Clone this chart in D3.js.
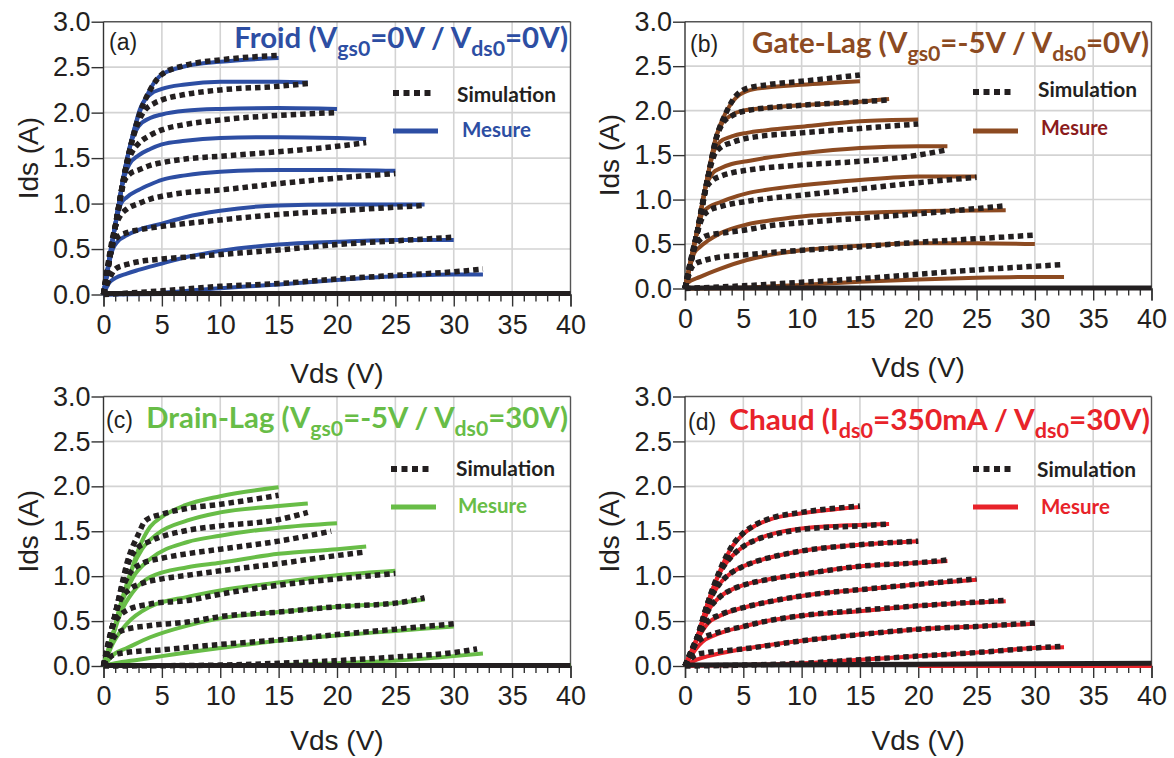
<!DOCTYPE html>
<html>
<head>
<meta charset="utf-8">
<script src="https://cdn.jsdelivr.net/npm/d3@7"></script>
<style>
  html, body { margin: 0; padding: 0; background: #ffffff; }
  svg { display: block; }
</style>
</head>
<body>
<svg id="chart" width="1174" height="758"></svg>
<script>
// ---------------- DATA ----------------
const vdsTicks = [0, 5, 10, 15, 20, 25, 30, 35, 40];
const idsTicks = [0, 0.5, 1.0, 1.5, 2.0, 2.5, 3.0];
const vdsMinorTicks = d3.range(0, 41, 1);

// (a) Froid — each curve: [Vds, Ids]
const froidMesure = [
  [[0,0],[1,0.76],[2,1.48],[3,1.97],[4,2.26],[5,2.42],[7,2.51],[10,2.56],[15,2.60]],
  [[0,0],[1,0.76],[2,1.48],[2.6,1.8],[3.1,2.03],[4,2.2],[5,2.26],[7,2.31],[10,2.34],[15,2.34],[17.5,2.33]],
  [[0,0],[1,0.76],[2,1.48],[2.5,1.72],[3,1.85],[4,1.94],[5,1.98],[7,2.02],[10,2.04],[15,2.05],[20,2.04]],
  [[0,0],[1,0.76],[1.8,1.3],[2.2,1.43],[3,1.53],[4,1.6],[5,1.65],[7,1.69],[10,1.72],[15,1.73],[20,1.72],[22.5,1.71]],
  [[0,0],[1,0.76],[1.5,1.0],[2,1.07],[3,1.15],[4,1.21],[5,1.26],[7,1.31],[10,1.35],[15,1.37],[20,1.37],[25,1.36]],
  [[0,0],[0.8,0.5],[1.2,0.58],[2,0.65],[3,0.71],[5,0.78],[7,0.85],[10,0.92],[15,0.98],[20,0.99],[27.5,0.99]],
  [[0,0],[0.5,0.13],[1,0.18],[2,0.23],[3,0.27],[5,0.34],[7,0.41],[10,0.48],[15,0.55],[20,0.58],[25,0.6],[30,0.6]],
  [[0,0],[2,0.005],[5,0.02],[10,0.07],[15,0.11],[20,0.16],[25,0.2],[30,0.22],[32.5,0.22]],
  [[0,0],[10,0.008],[20,0.01],[35,0.01]]
];
const froidSimulation = [
  [[0,0],[1,0.74],[2,1.45],[3,1.95],[4,2.25],[5,2.42],[7,2.52],[10,2.58],[15,2.63]],
  [[0,0],[1,0.74],[2,1.45],[3,1.9],[3.5,2.02],[4.3,2.1],[5,2.14],[7,2.2],[10,2.25],[15,2.29],[17.5,2.32]],
  [[0,0],[1,0.74],[2,1.43],[2.5,1.58],[3,1.66],[4,1.75],[5,1.81],[7,1.87],[10,1.92],[15,1.97],[20,2.0]],
  [[0,0],[1,0.74],[1.8,1.25],[2.3,1.33],[3,1.37],[4,1.42],[5,1.45],[7,1.49],[10,1.52],[15,1.57],[20,1.63],[22.5,1.67]],
  [[0,0],[1,0.74],[1.5,0.88],[2,0.94],[3,1.0],[4,1.05],[5,1.08],[7,1.12],[10,1.15],[15,1.22],[20,1.28],[25,1.33]],
  [[0,0],[0.8,0.55],[1.2,0.63],[2,0.68],[3,0.71],[5,0.75],[7,0.78],[10,0.82],[15,0.88],[20,0.92],[27.5,0.98]],
  [[0,0],[0.6,0.2],[1,0.28],[2,0.33],[3,0.36],[5,0.39],[7,0.41],[10,0.44],[15,0.49],[20,0.55],[25,0.59],[30,0.63]],
  [[0,0],[5,0.04],[10,0.09],[15,0.12],[20,0.17],[25,0.21],[30,0.25],[32.5,0.28]]
];
const froidPinch = [[0,0.01],[40,0.01]];

// (b) Gate-Lag
const gateLagMesure = [
  [[0,0],[1,0.62],[2,1.3],[2.7,1.72],[3.5,1.98],[4.2,2.12],[5.3,2.22],[7,2.26],[10,2.29],[15,2.33]],
  [[0,0],[1,0.62],[2,1.3],[2.7,1.72],[3.2,1.86],[4,1.95],[5,2.0],[7,2.03],[10,2.06],[15,2.1],[17.5,2.13]],
  [[0,0],[1,0.62],[2,1.3],[2.5,1.55],[3,1.65],[4,1.71],[5.3,1.75],[7,1.78],[10,1.82],[15,1.88],[20,1.90]],
  [[0,0],[1,0.62],[1.8,1.15],[2.4,1.3],[3,1.35],[4,1.4],[5.3,1.43],[7,1.47],[10,1.52],[15,1.58],[20,1.6],[22.5,1.6]],
  [[0,0],[1,0.62],[1.5,0.85],[2.1,0.92],[3,0.97],[4,1.02],[5.3,1.07],[7,1.11],[10,1.16],[15,1.22],[20,1.26],[25,1.26]],
  [[0,0],[0.8,0.4],[1.3,0.47],[2,0.54],[3,0.62],[5.3,0.72],[7,0.76],[10,0.81],[15,0.85],[20,0.87],[27.5,0.88]],
  [[0,0],[0.2,0.06],[1.3,0.13],[3,0.22],[5.3,0.32],[7,0.37],[10,0.43],[15,0.48],[20,0.51],[25,0.51],[30,0.5]],
  [[0,0],[5,0.01],[10,0.04],[15,0.075],[20,0.10],[25,0.12],[30,0.13],[32.5,0.13]],
  [[0,0],[10,0.005],[33,0.005]]
];
const gateLagSimulation = [
  [[0,0],[1,0.6],[2,1.27],[2.7,1.7],[3.5,1.97],[4.1,2.12],[5.3,2.25],[7,2.29],[10,2.33],[15,2.40]],
  [[0,0],[1,0.6],[2,1.27],[2.7,1.7],[3.2,1.85],[4,1.94],[5.3,2.0],[10,2.06],[15,2.1],[17.5,2.12]],
  [[0,0],[1,0.6],[2,1.27],[2.5,1.5],[3,1.58],[4,1.64],[5.3,1.69],[10,1.75],[15,1.8],[20,1.85]],
  [[0,0],[1,0.6],[1.8,1.12],[2.4,1.22],[3,1.26],[4,1.3],[5.3,1.33],[10,1.39],[15,1.43],[20,1.5],[22.5,1.56]],
  [[0,0],[1,0.6],[1.5,0.8],[2.1,0.88],[3,0.92],[5.3,0.98],[7,1.01],[10,1.05],[15,1.12],[20,1.19],[25,1.25]],
  [[0,0],[0.8,0.45],[1.3,0.55],[2,0.6],[3,0.62],[5.3,0.66],[7,0.7],[10,0.74],[15,0.79],[20,0.84],[27.5,0.93]],
  [[0,0],[0.7,0.26],[1.5,0.31],[2.4,0.34],[5.3,0.38],[10,0.43],[15,0.47],[20,0.52],[25,0.56],[30,0.6]],
  [[0,0],[5,0.03],[10,0.07],[15,0.11],[20,0.16],[25,0.21],[30,0.25],[32.5,0.27]]
];
const gateLagPinch = [[0,0.005],[40,0.005]];

// (c) Drain-Lag
const drainLagMesure = [
  [[0,0],[0.8,0.35],[1.5,0.7],[2,0.9],[3,1.3],[4,1.55],[5,1.66],[7,1.79],[10,1.89],[15,1.99]],
  [[0,0],[0.8,0.35],[1.5,0.7],[2.5,1.1],[3.3,1.3],[4.6,1.47],[7.2,1.62],[10,1.71],[15,1.78],[17.5,1.81]],
  [[0,0],[0.8,0.35],[1.5,0.68],[2.5,0.98],[4,1.19],[7.2,1.38],[10,1.45],[15,1.54],[20,1.59]],
  [[0,0],[0.8,0.33],[1.5,0.6],[2.5,0.82],[4,0.99],[7.2,1.1],[10,1.15],[15,1.25],[20,1.3],[22.5,1.33]],
  [[0,0],[0.8,0.25],[2,0.47],[4,0.66],[7.2,0.77],[10,0.84],[15,0.93],[20,1.01],[25,1.06]],
  [[0,0],[1,0.14],[2,0.2],[4,0.32],[7.2,0.45],[10,0.53],[15,0.6],[20,0.66],[25,0.70],[27.5,0.74]],
  [[0,0],[1,0.03],[3,0.07],[5,0.11],[10,0.2],[15,0.28],[20,0.34],[25,0.39],[30,0.44]],
  [[0,0],[10,0.0],[15,0.01],[20,0.03],[25,0.06],[30,0.11],[32.5,0.14]],
  [[0,0],[20,0.01],[40,0.01]]
];
const drainLagSimulation = [
  [[0,0],[0.7,0.4],[1.4,0.8],[2,1.14],[3,1.47],[3.6,1.62],[5,1.69],[7,1.75],[10,1.8],[15,1.9]],
  [[0,0],[0.7,0.4],[1.4,0.8],[2,1.1],[2.8,1.3],[4,1.39],[7.2,1.51],[10,1.56],[15,1.63],[17.5,1.71]],
  [[0,0],[0.7,0.4],[1.4,0.78],[2.2,1.02],[3.3,1.14],[5,1.2],[7.2,1.25],[10,1.3],[15,1.39],[19.5,1.5]],
  [[0,0],[0.7,0.4],[1.4,0.72],[2.2,0.85],[3.3,0.92],[5,0.97],[7.2,1.01],[10,1.06],[15,1.14],[20,1.23],[22.5,1.27]],
  [[0,0],[0.8,0.45],[1.3,0.55],[2,0.62],[4,0.69],[7.2,0.73],[10,0.80],[15,0.90],[20,0.97],[25,1.03]],
  [[0,0],[0.8,0.3],[1.7,0.4],[4,0.45],[7.2,0.49],[10,0.55],[15,0.6],[20,0.66],[25,0.70],[27.5,0.76]],
  [[0,0],[0.8,0.12],[2,0.15],[5,0.18],[10,0.24],[15,0.29],[20,0.35],[25,0.41],[30,0.47]],
  [[0,0],[10,0.01],[15,0.03],[20,0.06],[25,0.1],[30,0.15],[32,0.19]]
];
const drainLagPinch = [[0,0.005],[40,0.005]];

// (d) Chaud
const chaudMesure = [
  [[0,0],[1,0.3],[2,0.72],[3,1.06],[4,1.32],[5,1.47],[6,1.56],[7.5,1.64],[10,1.7],[15,1.77]],
  [[0,0],[1,0.3],[2,0.72],[3,1.04],[4,1.22],[5,1.33],[6,1.4],[7.5,1.47],[10,1.53],[15,1.57],[17.5,1.58]],
  [[0,0],[1,0.3],[2,0.7],[3,0.92],[4,1.04],[5,1.11],[6,1.16],[8,1.23],[10,1.28],[15,1.35],[20,1.39]],
  [[0,0],[1,0.3],[2,0.62],[3,0.77],[4,0.85],[5,0.9],[7,0.96],[10,1.02],[15,1.11],[20,1.15],[22.5,1.17]],
  [[0,0],[1,0.28],[2,0.48],[3,0.56],[5,0.65],[7,0.71],[10,0.78],[15,0.85],[20,0.91],[25,0.96]],
  [[0,0],[1,0.2],[1.5,0.27],[2.5,0.34],[5,0.44],[7,0.5],[10,0.56],[15,0.61],[20,0.67],[27.5,0.72]],
  [[0,0],[1,0.07],[2,0.11],[5,0.19],[10,0.28],[15,0.35],[20,0.41],[25,0.44],[30,0.47]],
  [[0,0],[5,0.01],[10,0.03],[15,0.07],[20,0.11],[25,0.15],[30,0.2],[32.5,0.21]],
  [[20,0.0],[40,0.0]]
];
const chaudSimulation = [
  [[0,0],[1,0.3],[2,0.72],[3,1.07],[4,1.33],[5,1.48],[6,1.57],[7.5,1.65],[10,1.71],[15,1.78]],
  [[0,0],[1,0.3],[2,0.72],[3,1.04],[4,1.22],[5,1.33],[6,1.4],[7.5,1.46],[10,1.52],[15,1.56],[17.5,1.58]],
  [[0,0],[1,0.3],[2,0.7],[3,0.92],[4,1.04],[5,1.11],[6,1.16],[8,1.23],[10,1.28],[15,1.35],[20,1.39]],
  [[0,0],[1,0.3],[2,0.62],[3,0.77],[4,0.85],[5,0.9],[7,0.96],[10,1.02],[15,1.11],[20,1.15],[22.5,1.18]],
  [[0,0],[1,0.3],[2,0.5],[3,0.57],[5,0.65],[7,0.71],[10,0.78],[15,0.85],[20,0.91],[25,0.97]],
  [[0,0],[1,0.26],[1.5,0.31],[2.5,0.36],[5,0.44],[7,0.5],[10,0.56],[15,0.62],[20,0.67],[27.5,0.73]],
  [[0,0],[1,0.13],[2,0.15],[5,0.19],[10,0.28],[15,0.35],[20,0.41],[25,0.44],[30,0.48]],
  [[0,0],[5,0.01],[10,0.03],[15,0.07],[20,0.11],[25,0.15],[30,0.2],[32.5,0.22]]
];
const chaudPinch = [[0,0.01],[20,0.02],[40,0.03]];

// titles: [text, isSubscript]
const titleA = [["Froid (V",0],["gs0",1],["=0V / V",0],["ds0",1],["=0V)",0]];
const titleB = [["Gate-Lag (V",0],["gs0",1],["=-5V / V",0],["ds0",1],["=0V)",0]];
const titleC = [["Drain-Lag (V",0],["gs0",1],["=-5V / V",0],["ds0",1],["=30V)",0]];
const titleD = [["Chaud (I",0],["ds0",1],["=350mA / V",0],["ds0",1],["=30V)",0]];
const legendLabels = ["Simulation", "Mesure"];

// ---------------- LAYOUT ----------------
const panels = [
  { id:"(a)", title:titleA, color:"#2d4ea3", mesColor:"#2d4ea3", mes:froidMesure, sim:froidSimulation, pinch:froidPinch,
    left:103.5, right:570.5, top:21.7, bottom:294.5, xTitle:88, titleEnd:568, titleW:334, titleBase:48, tag:[109,50],
    leg:{lx0:393, lx1:435, ly1:93, ly2:131, tx1:457, tw1:99, tb1:102, tx2:462, tw2:69, tb2:137} },
  { id:"(b)", title:titleB, color:"#8c4a21", mesColor:"#8b1c1c", mes:gateLagMesure, sim:gateLagSimulation, pinch:gateLagPinch,
    left:685, right:1151.5, top:21.7, bottom:288.5, xTitle:88, titleEnd:1149, titleW:397, titleBase:53, tag:[690,52],
    leg:{lx0:973, lx1:1015, ly1:92, ly2:131, tx1:1038, tw1:99, tb1:97, tx2:1041, tw2:67, tb2:135} },
  { id:"(c)", title:titleC, color:"#68bd47", mesColor:"#68bd47", mes:drainLagMesure, sim:drainLagSimulation, pinch:drainLagPinch,
    left:103.5, right:570.5, top:396.5, bottom:666, xTitle:84, titleEnd:568, titleW:422, titleBase:428, tag:[106,428],
    leg:{lx0:391, lx1:433, ly1:469, ly2:507, tx1:456, tw1:99, tb1:476, tx2:458, tw2:69, tb2:513} },
  { id:"(d)", title:titleD, color:"#e8232a", mesColor:"#e8232a", mes:chaudMesure, sim:chaudSimulation, pinch:chaudPinch,
    left:685, right:1151.5, top:396.5, bottom:666, xTitle:84, titleEnd:1150, titleW:421, titleBase:430, tag:[688,430],
    leg:{lx0:973, lx1:1015, ly1:469, ly2:507, tx1:1037, tw1:99, tb1:477, tx2:1041, tw2:69, tb2:514} }
];

const svg = d3.select("#chart");
const tickFont = "'Liberation Sans', Arial, sans-serif";
const boldFont = "Lato, 'Open Sans', sans-serif";

function scaledText(parent, x, y, anchor, targetW, build) {
  const g = parent.append("g");
  const t = g.append("text").attr("x", 0).attr("y", 0).attr("text-anchor", anchor);
  build(t);
  const w = t.node().getComputedTextLength();
  const s = targetW / w;
  g.attr("transform", `translate(${x},${y}) scale(${s},1)`);
  return g;
}

panels.forEach(p => {
  const x = d3.scaleLinear().domain([0, 40]).range([p.left, p.right]);
  const y = d3.scaleLinear().domain([0, 3]).range([p.bottom, p.top]);
  const g = svg.append("g");

  // grid
  g.append("g").selectAll("line.vg").data(vdsTicks.slice(1, -1)).join("line")
    .attr("x1", d => x(d)).attr("x2", d => x(d)).attr("y1", p.top).attr("y2", p.bottom)
    .attr("stroke", "#d3d3d3").attr("stroke-width", 1.6);
  g.append("g").selectAll("line.hg").data(idsTicks.slice(1, -1)).join("line")
    .attr("x1", p.left).attr("x2", p.right).attr("y1", d => y(d)).attr("y2", d => y(d))
    .attr("stroke", "#d3d3d3").attr("stroke-width", 1.6);

  // frame top/right
  g.append("line").attr("x1", p.left).attr("x2", p.right).attr("y1", p.top).attr("y2", p.top)
    .attr("stroke", "#555").attr("stroke-width", 1.4);
  g.append("line").attr("x1", p.right).attr("x2", p.right).attr("y1", p.top).attr("y2", p.bottom)
    .attr("stroke", "#555").attr("stroke-width", 1.4);

  // axes
  const xAxis = d3.axisBottom(x).tickValues(vdsTicks).tickSize(12).tickFormat(d3.format("d"));
  const xAxisMinor = d3.axisBottom(x).tickValues(vdsMinorTicks.filter(v => v % 5 !== 0)).tickSize(7).tickFormat("");
  const yAxis = d3.axisLeft(y).tickValues(idsTicks).tickSize(12).tickFormat(d3.format(".1f"));

  const gx = g.append("g").attr("transform", `translate(0,${p.bottom})`).call(xAxis);
  const gxm = g.append("g").attr("transform", `translate(0,${p.bottom})`).call(xAxisMinor);
  const gy = g.append("g").attr("transform", `translate(${p.left},0)`).call(yAxis);
  [gx, gxm, gy].forEach(a => {
    a.select(".domain").attr("stroke", "#333").attr("stroke-width", 1.4);
    a.selectAll(".tick line").attr("stroke", "#333").attr("stroke-width", 1.4);
  });
  gxm.select(".domain").remove();
  gx.selectAll(".tick text").attr("font-family", tickFont).attr("font-size", 27).attr("fill", "#231f20")
    .attr("y", 20).attr("dy", "0.71em");
  gy.selectAll(".tick text").attr("font-family", tickFont).attr("font-size", 27).attr("fill", "#231f20")
    .attr("x", -13);
  gy.select(".domain").attr("d", `M0,${p.bottom}V${p.top}`);

  // axis titles
  g.append("text").attr("x", (p.left + p.right) / 2).attr("y", p.bottom + p.xTitle)
    .attr("text-anchor", "middle").attr("font-family", tickFont).attr("font-size", 28).attr("fill", "#231f20")
    .text("Vds (V)");
  g.append("text").attr("transform", `translate(${p.left - 66},${(p.top + p.bottom) / 2}) rotate(-90)`)
    .attr("text-anchor", "middle").attr("font-family", tickFont).attr("font-size", 28).attr("fill", "#231f20")
    .text("Ids (A)");

  // curves
  const line = d3.line().x(d => x(d[0])).y(d => y(d[1])).curve(d3.curveMonotoneX);
  const plot = g.append("g");
  plot.selectAll("path.mes").data(p.mes).join("path")
    .attr("d", line).attr("fill", "none").attr("stroke", p.color).attr("stroke-width", 4);
  plot.append("path").attr("d", line(p.pinch)).attr("fill", "none")
    .attr("stroke", "#231f20").attr("stroke-width", 5);
  plot.selectAll("path.sim").data(p.sim).join("path")
    .attr("d", line).attr("fill", "none").attr("stroke", "#231f20").attr("stroke-width", 5.5)
    .attr("stroke-dasharray", "5.5,4");

  // tag
  g.append("text").attr("x", p.tag[0]).attr("y", p.tag[1]).attr("font-family", tickFont)
    .attr("font-size", 23).attr("fill", "#231f20").text(p.id);

  // title
  scaledText(g, p.titleEnd, p.titleBase, "end", p.titleW, t => {
    t.attr("font-family", boldFont).attr("font-weight", 700).attr("font-size", 29).attr("fill", p.color);
    let shift = 0;
    p.title.forEach(seg => {
      const ts = t.append("tspan").text(seg[0]);
      if (seg[1]) { ts.attr("font-size", 21).attr("dy", 8 - shift); shift = 8; }
      else { ts.attr("dy", -shift); shift = 0; }
    });
  });

  // legend
  const L = p.leg;
  g.append("line").attr("x1", L.lx0).attr("x2", L.lx1).attr("y1", L.ly1).attr("y2", L.ly1)
    .attr("stroke", "#231f20").attr("stroke-width", 6).attr("stroke-dasharray", "6,4.5");
  g.append("line").attr("x1", L.lx0).attr("x2", L.lx1 + 3).attr("y1", L.ly2).attr("y2", L.ly2)
    .attr("stroke", p.color).attr("stroke-width", 5);
  scaledText(g, L.tx1, L.tb1, "start", L.tw1, t => {
    t.attr("font-family", boldFont).attr("font-weight", 700).attr("font-size", 20).attr("fill", "#231f20")
      .text(legendLabels[0]);
  });
  scaledText(g, L.tx2, L.tb2, "start", L.tw2, t => {
    t.attr("font-family", boldFont).attr("font-weight", 700).attr("font-size", 20).attr("fill", p.mesColor)
      .text(legendLabels[1]);
  });
});
</script>
</body>
</html>
